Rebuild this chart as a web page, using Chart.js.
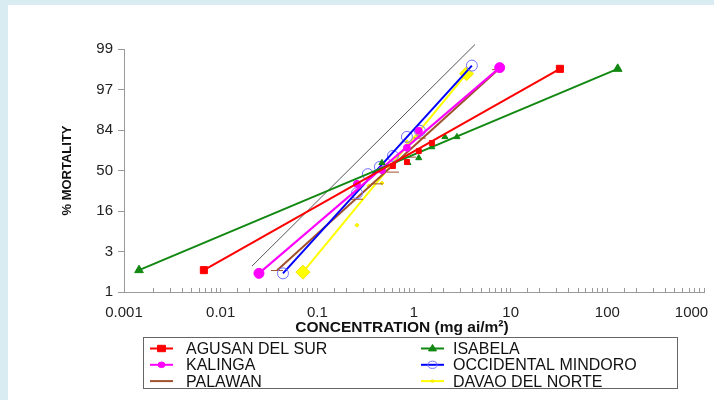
<!DOCTYPE html>
<html>
<head>
<meta charset="utf-8">
<script src="https://cdn.jsdelivr.net/npm/chart.js@4.4.1/dist/chart.umd.min.js"></script>
<style>
  html, body { margin: 0; padding: 0; background: #fff; }
  canvas { display: block; }
</style>
</head>
<body>
<canvas id="mortalityChart" width="714" height="400"></canvas>
<script>
// ---------------------------------------------------------------- données
// axe y en unités probit (-3 .. 3), affiché avec les % de mortalité
const yTickLabels = ['1', '3', '16', '50', '84', '97', '99']
const xTickLabels = ['0.001', '0.01', '0.1', '1', '10', '100', '1000']

const seriesNames = ['AGUSAN DEL SUR', 'ISABELA', 'KALINGA', 'OCCIDENTAL MINDORO', 'PALAWAN', 'DAVAO DEL NORTE']

// droites ajustées : [début, fin]
const agusanFitX = [0.0067, 32.3]
const agusanFitY = [-2.46, 2.51]
const isabelaFitX = [0.00143, 128]
const isabelaFitY = [-2.46, 2.51]
const kalingaFitX = [0.0249, 7.7]
const kalingaFitY = [-2.54, 2.54]
const mindoroFitX = [0.0441, 3.97]
const mindoroFitY = [-2.54, 2.59]
const palawanFitX = [0.0382, 7.4]
const palawanFitY = [-2.47, 2.49]
const davaoFitX = [0.071, 3.5]
const davaoFitY = [-2.51, 2.39]

// points observés
const agusanObsX = [0.605, 0.845, 1.12, 1.53]
const agusanObsY = [0.11, 0.21, 0.48, 0.68]
const isabelaObsX = [0.466, 0.865, 1.12, 1.53, 2.09, 2.78]
const isabelaObsY = [0.19, 0.19, 0.31, 0.58, 0.83, 0.83]
const kalingaObsX = [0.257, 0.466, 0.845, 1.12]
const kalingaObsY = [-0.33, 0.01, 0.56, 0.98]
const mindoroObsX = [0.257, 0.333, 0.444, 0.605, 0.845, 1.15]
const mindoroObsY = [-0.56, -0.09, 0.09, 0.36, 0.83, 0.98]
const palawanObsX = [0.257, 0.413, 0.605, 0.908, 1.15]
const palawanObsY = [-0.71, -0.33, -0.04, 0.33, 0.80]
const davaoObsX = [0.257, 0.342, 0.466, 0.62, 0.845, 1.10]
const davaoObsY = [-1.35, -0.38, -0.31, 0.19, 0.71, 0.85]

// droite de référence (grise)
const refLineX = [0.0211, 4.27]
const refLineY = [-2.36, 3.11]

// ---------------------------------------------------------------- styles
const FONT = "'Liberation Sans', Arial, sans-serif"
const series = [
  { fitX: agusanFitX, fitY: agusanFitY, obsX: agusanObsX, obsY: agusanObsY, color: '#ff0000', point: 'rect', fill: '#ff0000', stroke: '#ff0000', endR: 5, obsR: 3.5 },
  { fitX: isabelaFitX, fitY: isabelaFitY, obsX: isabelaObsX, obsY: isabelaObsY, color: '#118811', point: 'triangle', fill: '#118811', stroke: '#118811', endR: 5, obsR: 3.5 },
  { fitX: kalingaFitX, fitY: kalingaFitY, obsX: kalingaObsX, obsY: kalingaObsY, color: '#ff00ff', point: 'circle', fill: '#ff00ff', stroke: '#ff00ff', endR: 5, obsR: 3.5 },
  { fitX: mindoroFitX, fitY: mindoroFitY, obsX: mindoroObsX, obsY: mindoroObsY, color: '#0000ff', point: 'circle', fill: 'rgba(0,0,0,0)', stroke: '#7070ff', endR: 5.5, obsR: 5.5 },
  { fitX: palawanFitX, fitY: palawanFitY, obsX: palawanObsX, obsY: palawanObsY, color: '#a0522d', point: 'line', fill: '#a0522d', stroke: '#a0522d', endR: 6, obsR: 6 },
  { fitX: davaoFitX, fitY: davaoFitY, obsX: davaoObsX, obsY: davaoObsY, color: '#ffff00', point: 'rectRot', fill: '#ffff00', stroke: '#f5e600', endR: 7, obsR: 2 }
]

const toPoints = (xs, ys) => xs.map((x, i) => ({ x: x, y: ys[i] }))

const datasets = []
series.forEach((s, i) => {
  datasets.push({
    label: seriesNames[i],
    data: toPoints(s.fitX, s.fitY),
    showLine: true,
    borderColor: s.color,
    borderWidth: 2,
    pointStyle: s.point,
    pointRadius: s.endR,
    pointBackgroundColor: s.fill,
    pointBorderColor: s.stroke,
    pointBorderWidth: 1
  })
  datasets.push({
    label: seriesNames[i] + ' obs',
    data: toPoints(s.obsX, s.obsY),
    showLine: false,
    pointStyle: s.point,
    pointRadius: s.obsR,
    pointBackgroundColor: s.fill,
    pointBorderColor: s.stroke,
    pointBorderWidth: 1
  })
})
datasets.push({
  label: 'reference',
  data: toPoints(refLineX, refLineY),
  showLine: true,
  borderColor: '#555555',
  borderWidth: 1,
  pointRadius: 0,
  clip: false
})

// ---------------------------------------------------------------- dessin légende / fond
function drawMarker(ctx, s, x, y, r) {
  ctx.save()
  ctx.fillStyle = s.fill
  ctx.strokeStyle = s.stroke
  ctx.lineWidth = 1
  ctx.beginPath()
  if (s.point === 'rect') {
    ctx.rect(x - r, y - r * 0.8, 2 * r, 1.6 * r)
  } else if (s.point === 'triangle') {
    ctx.moveTo(x, y - r)
    ctx.lineTo(x + r, y + r * 0.6)
    ctx.lineTo(x - r, y + r * 0.6)
    ctx.closePath()
  } else if (s.point === 'circle' || s.point === 'rectRot') {
    ctx.ellipse(x, y, r, r * 0.8, 0, 0, Math.PI * 2)
  }
  if (s.point !== 'line') {
    ctx.fill()
    ctx.stroke()
  }
  ctx.restore()
}

const legendMarkerR = [4, 4, 3.5, 4.5, 0, 1.5]

const pageDecor = {
  id: 'pageDecor',
  beforeDraw(chart) {
    const ctx = chart.ctx
    ctx.save()
    ctx.fillStyle = '#ffffff'
    ctx.fillRect(0, 0, chart.width, chart.height)
    ctx.fillStyle = '#d9ecf2'
    ctx.fillRect(0, 0, 8, chart.height)
    ctx.fillRect(0, 0, chart.width, 5)
    ctx.restore()
  },
  afterDraw(chart) {
    const ctx = chart.ctx
    ctx.save()
    // titre axe x
    ctx.fillStyle = '#111'
    ctx.font = 'bold 15.5px ' + FONT
    ctx.textAlign = 'center'
    ctx.textBaseline = 'middle'
    ctx.fillText('CONCENTRATION (mg ai/m²)', 402, 328)

    // cadre légende
    ctx.strokeStyle = '#666'
    ctx.lineWidth = 1
    ctx.strokeRect(143.5, 337.5, 534, 51)

    ctx.font = '16px ' + FONT
    ctx.textAlign = 'left'
    const lineStart = [150, 421]
    const textStart = [186, 453]
    series.forEach((s, i) => {
      const col = i % 2
      const row = Math.floor(i / 2)
      const y = 348.5 + row * 16.3
      const x0 = lineStart[col]
      ctx.strokeStyle = s.color
      ctx.lineWidth = 2
      ctx.beginPath()
      ctx.moveTo(x0, y)
      ctx.lineTo(x0 + 23, y)
      ctx.stroke()
      drawMarker(ctx, s, x0 + 11.5, y, legendMarkerR[i])
      ctx.fillStyle = '#111'
      ctx.fillText(seriesNames[i], textStart[col], y + 1)
    })
    ctx.restore()
  }
}

// ---------------------------------------------------------------- graphe
const axisGray = '#9a9a9a'

new Chart(document.getElementById('mortalityChart'), {
  type: 'scatter',
  data: { datasets: datasets },
  options: {
    responsive: false,
    animation: false,
    layout: { padding: { left: 8, top: 49, right: 10, bottom: 0 } },
    plugins: {
      legend: { display: false },
      tooltip: { enabled: false }
    },
    scales: {
      x: {
        type: 'logarithmic',
        min: 0.001,
        max: 1000,
        border: { display: true, color: axisGray },
        grid: { drawOnChartArea: false, color: axisGray, tickLength: -4 },
        ticks: {
          autoSkip: false,
          maxRotation: 0,
          padding: 16,
          color: '#222',
          font: { family: FONT, size: 15 },
          callback: function (value) {
            const p = Math.log10(value)
            if (Math.abs(p - Math.round(p)) < 1e-6) {
              const label = xTickLabels[Math.round(p) + 3]
              // le dernier libellé est décalé vers la gauche pour rester dans le cadre
              return p > 2.5 ? label + '      ' : label
            }
            return ''
          }
        },
        afterFit: function (scale) {
          scale.height = 108
          scale.paddingLeft = 0
          scale.paddingRight = 0
        }
      },
      y: {
        min: -3,
        max: 3,
        border: { display: true, color: axisGray },
        grid: { drawOnChartArea: false, color: axisGray, tickLength: 6 },
        ticks: {
          stepSize: 1,
          padding: 5,
          color: '#222',
          font: { family: FONT, size: 15 },
          callback: function (value) { return yTickLabels[Math.round(value) + 3] }
        },
        title: {
          display: true,
          text: '% MORTALITY',
          color: '#111',
          font: { family: FONT, size: 13, weight: 'bold' },
          padding: { top: 52, bottom: 0 }
        },
        afterFit: function (scale) {
          scale.width = 116
          scale.paddingTop = 0
          scale.paddingBottom = 0
        }
      }
    }
  },
  plugins: [pageDecor]
})
</script>
</body>
</html>
